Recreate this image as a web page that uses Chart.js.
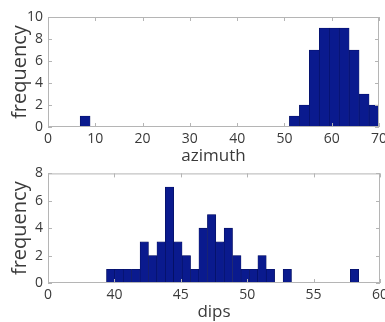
<!DOCTYPE html>
<html>
<head>
<meta charset="utf-8">
<script src="https://cdn.jsdelivr.net/npm/chart.js@4/dist/chart.umd.min.js"></script>
<style>
  body { margin: 0; background: #fff; }
  #wrap { position: relative; width: 385px; height: 322px; overflow: hidden; }
  canvas { position: absolute; left: 0; }
</style>
</head>
<body>
<div id="wrap">
  <canvas id="azChart" style="top:0"></canvas>
  <canvas id="dipChart" style="top:160px"></canvas>
</div>
<script>
// azimuth histogram (30 bins)
var azCenters = [7.85, 9.96, 12.07, 14.17, 16.28, 18.39, 20.50, 22.60, 24.71, 26.82,
                 28.92, 31.03, 33.14, 35.24, 37.35, 39.46, 41.56, 43.67, 45.78, 47.89,
                 49.99, 52.10, 54.21, 56.31, 58.42, 60.53, 62.63, 64.74, 66.85, 68.95];
var azCounts = [1, 0, 0, 0, 0, 0, 0, 0, 0, 0,
                0, 0, 0, 0, 0, 0, 0, 0, 0, 0,
                0, 1, 2, 7, 9, 9, 9, 7, 3, 2];
var azXTicks = [0, 10, 20, 30, 40, 50, 60, 70];
var azYTicks = [0, 2, 4, 6, 8, 10];

// dips histogram (30 bins)
var dipCenters = [39.72, 40.35, 40.98, 41.62, 42.25, 42.88, 43.52, 44.15, 44.78, 45.42,
                  46.05, 46.68, 47.32, 47.95, 48.58, 49.22, 49.85, 50.48, 51.12, 51.75,
                  52.38, 53.02, 53.65, 54.28, 54.92, 55.55, 56.18, 56.82, 57.45, 58.08];
var dipCounts = [1, 1, 1, 1, 3, 2, 3, 7, 3, 2,
                 1, 4, 5, 3, 4, 2, 1, 1, 2, 1,
                 0, 1, 0, 0, 0, 0, 0, 0, 0, 1];
var dipXTicks = [35, 40, 45, 50, 55, 60];
var dipXLabels = ["0", "40", "45", "50", "55", "60"];
var dipYTicks = [0, 2, 4, 6, 8];

var barColor = '#0a1a8e';
var edgeColor = '#050f5a';
var frameColor = '#b5b5b5';
var textColor = '#3a3a3a';
var fontFamily = "'Open Sans', sans-serif";

// small tick marks pointing inside the frame, like matplotlib
var innerTicks = {
    id: 'innerTicks',
    afterDraw: function (chart) {
        var ctx = chart.ctx;
        var a = chart.chartArea;
        var xs = chart.scales.x, ys = chart.scales.y;
        ctx.save();
        ctx.strokeStyle = frameColor;
        ctx.lineWidth = 1;
        ctx.beginPath();
        xs.ticks.forEach(function (t) {
            var px = Math.round(xs.getPixelForValue(t.value)) + 0.5;
            ctx.moveTo(px, a.bottom); ctx.lineTo(px, a.bottom - 4);
            ctx.moveTo(px, a.top); ctx.lineTo(px, a.top + 4);
        });
        ys.ticks.forEach(function (t) {
            var py = Math.round(ys.getPixelForValue(t.value)) + 0.5;
            ctx.moveTo(a.left, py); ctx.lineTo(a.left + 4, py);
            ctx.moveTo(a.right, py); ctx.lineTo(a.right - 4, py);
        });
        ctx.stroke();
        ctx.strokeRect(a.left + 0.5, a.top + 0.5, a.right - a.left - 1, a.bottom - a.top - 1);
        ctx.restore();
    }
};

function makeHist(id, h, top, bottom, right, centers, counts, xTicks, xLabels, xMin, xMax, yTicks, yMax, xTitle) {
    var pts = centers.map(function (c, i) { return { x: c, y: counts[i] }; });
    return new Chart(document.getElementById(id), {
        type: 'bar',
        data: {
            datasets: [{
                data: pts,
                backgroundColor: barColor,
                borderColor: edgeColor,
                borderWidth: 0.6,
                barPercentage: 1,
                categoryPercentage: 1
            }]
        },
        options: {
            responsive: false,
            animation: false,
            layout: { autoPadding: false, padding: { top: top, right: right, left: 0, bottom: 0 } },
            plugins: { legend: { display: false }, tooltip: { enabled: false } },
            scales: {
                x: {
                    type: 'linear',
                    offset: false,
                    min: xMin,
                    max: xMax,
                    grid: { display: false, drawTicks: false, offset: false },
                    border: { display: false },
                    afterBuildTicks: function (s) { s.ticks = xTicks.map(function (v) { return { value: v }; }); },
                    afterFit: function (s) { s.height = h - bottom; },
                    // no extra room for the last label: it is clipped at the edge, as in the original
                    afterUpdate: function (s) { s.paddingRight = 0; s.paddingLeft = 0; },
                    ticks: {
                        color: textColor,
                        font: { family: fontFamily, size: 14 },
                        padding: 4,
                        maxRotation: 0,
                        callback: function (v, i) { return xLabels ? xLabels[i] : v; }
                    },
                    title: {
                        display: true,
                        text: xTitle,
                        color: textColor,
                        font: { family: fontFamily, size: 17 },
                        padding: { top: 0, bottom: 0 }
                    }
                },
                y: {
                    min: 0,
                    max: yMax,
                    grid: { display: false, drawTicks: false },
                    border: { display: false },
                    afterBuildTicks: function (s) { s.ticks = yTicks.map(function (v) { return { value: v }; }); },
                    afterFit: function (s) { s.width = 48; },
                    ticks: {
                        color: textColor,
                        font: { family: fontFamily, size: 14 },
                        padding: 5
                    },
                    title: {
                        display: true,
                        text: 'frequency',
                        color: textColor,
                        font: { family: fontFamily, size: 20 },
                        padding: { top: 8, bottom: 0 }
                    }
                }
            }
        },
        plugins: [innerTicks]
    });
}

var az = document.getElementById('azChart');
az.width = 385; az.height = 166;
var dip = document.getElementById('dipChart');
dip.width = 385; dip.height = 162;

makeHist('azChart', 166, 17, 127, 6, azCenters, azCounts, azXTicks, null, 0, 70, azYTicks, 10, 'azimuth');
makeHist('dipChart', 162, 11, 123, 5, dipCenters, dipCounts, dipXTicks, dipXLabels, 35, 60, dipYTicks, 8, 'dips');
</script>
</body>
</html>
